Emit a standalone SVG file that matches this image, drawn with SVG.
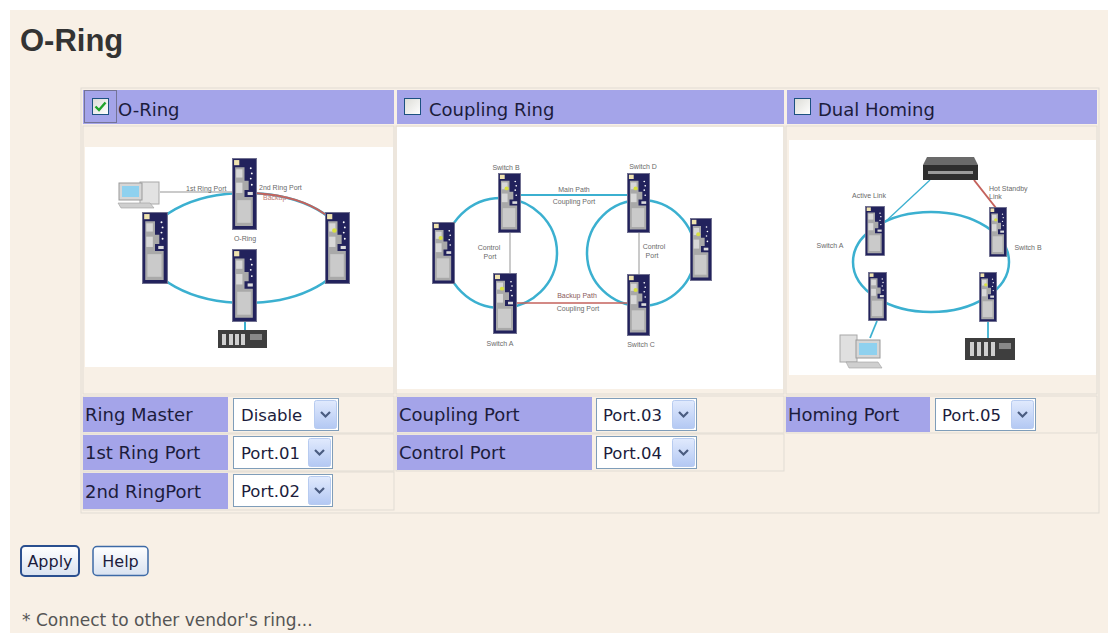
<svg xmlns="http://www.w3.org/2000/svg" xmlns:xlink="http://www.w3.org/1999/xlink" width="1108" height="633" viewBox="0 0 1108 633">
<style>
.ui{font-family:"DejaVu Sans","Verdana",sans-serif;fill:#1c1c3c}
.hd{font-size:18px}
.lb{font-size:18px}
.sel{font-size:16.5px}
.cell{fill:none;stroke:#e1dcd4;stroke-width:1}
.lab{fill:#a4a4e9}
.sm{font-family:"Liberation Sans",Arial,sans-serif;font-size:7px;fill:#6a6a6a}
.ring{fill:none;stroke:#3bb0d0;stroke-width:2.5}
.red{fill:none;stroke:#c4625c;stroke-width:2}
.gl{fill:none;stroke:#b8b8b8;stroke-width:1.5}
.box{fill:#fff;stroke:#7f9db9;stroke-width:1}
.btn{fill:url(#bg);stroke:#b7cbf0;stroke-width:1}
.chev{fill:none;stroke:#4a5c80;stroke-width:2.2}
</style>
<defs>
<linearGradient id="bg" x1="0" y1="0" x2="0" y2="1"><stop offset="0" stop-color="#e1eafd"/><stop offset="1" stop-color="#b3c8f3"/></linearGradient>
<linearGradient id="bb" x1="0" y1="0" x2="0" y2="1"><stop offset="0" stop-color="#ffffff"/><stop offset="1" stop-color="#d9e2f0"/></linearGradient>
<linearGradient id="cb" x1="0" y1="0" x2="1" y2="1"><stop offset="0" stop-color="#dcdcd6"/><stop offset="1" stop-color="#ffffff"/></linearGradient>
<symbol id="sw" viewBox="0 0 24 70" preserveAspectRatio="none">
<rect x="0.5" y="0.5" width="23" height="69" fill="#22225c" stroke="#707090"/>
<rect x="2" y="2" width="5" height="5" fill="#efe3b0"/>
<path d="M3 9H12V22H16V31H12V38H20V66H3Z" fill="#a9a9a9"/>
<rect x="4" y="11" width="6" height="8" fill="#d8d8d8"/>
<rect x="4" y="24" width="6" height="10" fill="#d8d8d8"/>
<rect x="5" y="41" width="13" height="22" fill="#cacaca"/>
<rect x="15" y="33" width="5" height="3" fill="#dcdcdc"/>
<circle cx="18" cy="10" r="0.9" fill="#fff"/>
<circle cx="19" cy="15" r="0.9" fill="#fff"/>
<circle cx="18" cy="20" r="0.9" fill="#fff"/>
<circle cx="19" cy="26" r="0.9" fill="#fff"/>
</symbol>
<symbol id="sw2" viewBox="0 0 24 70" preserveAspectRatio="none">
<use xlink:href="#sw" width="24" height="70"/>
<circle cx="9" cy="18" r="2.2" fill="#d8e040"/>
</symbol>
</defs>

<rect width="1108" height="633" fill="#ffffff"/>
<rect x="10" y="10" width="1098" height="623" fill="#f8f0e6"/>

<text x="20" y="51" font-family="Liberation Sans,Arial,sans-serif" font-weight="bold" font-size="31" fill="#333">O-Ring</text>

<g id="table">
<rect class="cell" x="81" y="88" width="1018" height="425"/>
<rect class="lab" x="83" y="90" width="311" height="34"/>
<rect class="lab" x="397" y="90" width="387" height="34"/>
<rect class="lab" x="787" y="90" width="310" height="34"/>
<rect class="cell" x="83" y="126" width="311" height="268"/>
<rect class="cell" x="396" y="126" width="388" height="268"/>
<rect class="cell" x="786" y="126" width="311" height="268"/>
<rect x="85" y="147" width="308" height="220" fill="#fff"/>
<rect x="397" y="127" width="386" height="262" fill="#fff"/>
<rect x="789" y="140" width="307" height="235" fill="#fff"/>
</g>

<g id="node-oring-header">
<rect x="84.5" y="90.5" width="32" height="32" fill="none" stroke="#444" stroke-width="1" stroke-dasharray="1,1"/>
<rect x="92.5" y="98.5" width="16" height="16" fill="url(#cb)" stroke="#1c5180"/>
<path d="M95.5 106.5L99 110L105.5 102.5" fill="none" stroke="#21a32b" stroke-width="2.4"/>
<text class="ui hd" x="118" y="116">O-Ring</text>
</g>
<g id="node-coupling-header">
<rect x="404.5" y="98.5" width="16" height="16" fill="url(#cb)" stroke="#1c5180"/>
<text class="ui hd" x="429" y="116">Coupling Ring</text>
</g>
<g id="node-dual-header">
<rect x="794.5" y="98.5" width="16" height="16" fill="url(#cb)" stroke="#1c5180"/>
<text class="ui hd" x="818" y="116">Dual Homing</text>
</g>

<!-- O-Ring diagram -->
<g id="oring-diagram">
<ellipse class="ring" cx="246" cy="248" rx="100" ry="55"/>
<path class="red" d="M257 193.3A100 55 0 0 1 325 214.3"/>
<line class="gl" x1="160" y1="192" x2="232" y2="192"/>
<line x1="245" y1="322" x2="245" y2="331" stroke="#3bb0d0" stroke-width="2"/>
<g id="pc1">
<rect x="140" y="182" width="19" height="22" fill="#e2e2e2" stroke="#a8a8a8"/>
<rect x="119" y="183" width="23" height="17" fill="#d6d6d6" stroke="#9a9a9a"/>
<rect x="122" y="186" width="17" height="11" fill="#8fd1ef"/>
<path d="M118 203H150L154 208H121Z" fill="#cfcfcf" stroke="#a0a0a0" stroke-width="0.6"/>
</g>
<g id="rack1">
<rect x="218" y="330" width="49" height="18" fill="#3e3e3e"/>
<rect x="222" y="334" width="4" height="11" fill="#cfcfcf"/>
<rect x="229" y="334" width="4" height="11" fill="#cfcfcf"/>
<rect x="235" y="334" width="4" height="11" fill="#cfcfcf"/>
<rect x="241" y="334" width="4" height="11" fill="#cfcfcf"/>
<rect x="250" y="334" width="12" height="6" fill="#888"/>
</g>
<use xlink:href="#sw" x="232" y="158" width="25" height="72"/>
<use xlink:href="#sw" x="142" y="212" width="26" height="72"/>
<use xlink:href="#sw2" x="325" y="212" width="25" height="72"/>
<use xlink:href="#sw" x="232" y="249" width="25" height="73"/>
<text class="sm" x="186" y="191" font-size="6">1st Ring Port</text>
<text class="sm" x="259" y="190" font-size="6">2nd Ring Port</text>
<text class="sm" x="263" y="200" font-size="6" style="fill:#c07a74">Backup</text>
<text class="sm" x="245" y="241" font-size="6" text-anchor="middle">O-Ring</text>
</g>

<!-- Coupling diagram -->
<g id="coupling-diagram">
<ellipse class="ring" cx="501" cy="253" rx="56" ry="55"/>
<ellipse class="ring" cx="641" cy="253" rx="54" ry="53"/>
<line x1="521" y1="195" x2="627" y2="195" stroke="#3bb0d0" stroke-width="2"/>
<line x1="517" y1="303" x2="627" y2="303" stroke="#c4625c" stroke-width="1.6"/>
<line class="gl" x1="510" y1="233" x2="510" y2="273"/>
<line class="gl" x1="639" y1="233" x2="639" y2="274"/>
<use xlink:href="#sw2" x="498" y="173" width="23" height="60"/>
<use xlink:href="#sw2" x="627" y="173" width="23" height="60"/>
<use xlink:href="#sw2" x="432" y="222" width="23" height="62"/>
<use xlink:href="#sw2" x="493" y="273" width="24" height="61"/>
<use xlink:href="#sw2" x="627" y="274" width="23" height="62"/>
<use xlink:href="#sw2" x="690" y="218" width="22" height="63"/>
<text class="sm" x="506" y="170" text-anchor="middle">Switch B</text>
<text class="sm" x="643" y="169" text-anchor="middle">Switch D</text>
<text class="sm" x="500" y="346" text-anchor="middle">Switch A</text>
<text class="sm" x="641" y="347" text-anchor="middle">Switch C</text>
<text class="sm" x="574" y="192" text-anchor="middle">Main Path</text>
<text class="sm" x="574" y="204" text-anchor="middle">Coupling Port</text>
<text class="sm" x="577" y="298" text-anchor="middle" style="fill:#8a5a5a">Backup Path</text>
<text class="sm" x="578" y="311" text-anchor="middle">Coupling Port</text>
<text class="sm" x="489" y="250" text-anchor="middle">Control</text>
<text class="sm" x="490" y="259" text-anchor="middle">Port</text>
<text class="sm" x="654" y="249" text-anchor="middle">Control</text>
<text class="sm" x="652" y="258" text-anchor="middle">Port</text>
</g>

<!-- Dual homing diagram -->
<g id="dual-diagram">
<ellipse class="ring" cx="931" cy="262" rx="78" ry="50"/>
<line x1="930" y1="180" x2="885" y2="222" stroke="#3bb0d0" stroke-width="1.3"/>
<line x1="974" y1="180" x2="996" y2="208" stroke="#c4625c" stroke-width="2"/>
<line x1="877" y1="321" x2="870" y2="338" stroke="#3bb0d0" stroke-width="1.8"/>
<line x1="988" y1="322" x2="988" y2="338" stroke="#3bb0d0" stroke-width="1.8"/>
<g id="hub">
<path d="M927 157H974L978 165H923Z" fill="#6a6a6a"/>
<rect x="923" y="165" width="55" height="15" fill="#2e2e2e"/>
<rect x="928" y="171" width="45" height="3" fill="#9a9a9a"/>
</g>
<g id="pc2">
<rect x="840" y="335" width="17" height="27" fill="#e0e0e0" stroke="#a8a8a8"/>
<rect x="856" y="340" width="24" height="18" fill="#d6d6d6" stroke="#9a9a9a"/>
<rect x="859" y="343" width="18" height="12" fill="#8fd1ef"/>
<path d="M846 362H878L882 368H849Z" fill="#cfcfcf" stroke="#a0a0a0" stroke-width="0.6"/>
</g>
<g id="rack2">
<rect x="965" y="338" width="50" height="22" fill="#3e3e3e"/>
<rect x="970" y="342" width="4" height="14" fill="#cfcfcf"/>
<rect x="977" y="342" width="4" height="14" fill="#cfcfcf"/>
<rect x="984" y="342" width="4" height="14" fill="#cfcfcf"/>
<rect x="991" y="342" width="4" height="14" fill="#cfcfcf"/>
<rect x="999" y="343" width="12" height="6" fill="#888"/>
</g>
<use xlink:href="#sw" x="865" y="206" width="20" height="50"/>
<use xlink:href="#sw2" x="989" y="207" width="18" height="50"/>
<use xlink:href="#sw" x="868" y="272" width="19" height="49"/>
<use xlink:href="#sw2" x="979" y="272" width="18" height="50"/>
<text class="sm" x="869" y="198" text-anchor="middle" font-size="6">Active Link</text>
<text class="sm" x="989" y="191" font-size="6">Hot Standby</text>
<text class="sm" x="989" y="199" font-size="6">Link</text>
<text class="sm" x="830" y="248" text-anchor="middle" font-size="6">Switch A</text>
<text class="sm" x="1028" y="250" text-anchor="middle" font-size="6">Switch B</text>
</g>

<!-- form rows -->
<g id="form-col1">
<rect class="cell" x="83" y="396" width="311" height="37"/>
<rect class="cell" x="83" y="434" width="311" height="37"/>
<rect class="cell" x="83" y="472" width="311" height="38"/>
<rect class="lab" x="83" y="397" width="145" height="35"/>
<rect class="lab" x="83" y="435" width="145" height="35"/>
<rect class="lab" x="83" y="473" width="145" height="36"/>
<text class="ui lb" x="85" y="421">Ring Master</text>
<text class="ui lb" x="85" y="459">1st Ring Port</text>
<text class="ui lb" x="85" y="498">2nd RingPort</text>
</g>
<g id="select-ringmaster">
<rect class="box" x="233.5" y="398.5" width="105" height="32"/>
<text class="ui sel" x="241" y="421">Disable</text>
<rect class="btn" x="314.5" y="400.5" width="22" height="28" rx="2"/>
<path class="chev" d="M321 412L325.5 416.5L330 412"/>
</g>
<g id="select-port1">
<rect class="box" x="233.5" y="436.5" width="99" height="32"/>
<text class="ui sel" x="241" y="459">Port.01</text>
<rect class="btn" x="308.5" y="438.5" width="22" height="28" rx="2"/>
<path class="chev" d="M315 450L319.5 454.5L324 450"/>
</g>
<g id="select-port2">
<rect class="box" x="233.5" y="474.5" width="99" height="32"/>
<text class="ui sel" x="241" y="497">Port.02</text>
<rect class="btn" x="308.5" y="476.5" width="22" height="28" rx="2"/>
<path class="chev" d="M315 488L319.5 492.5L324 488"/>
</g>

<g id="form-col2">
<rect class="cell" x="396" y="396" width="388" height="37"/>
<rect class="cell" x="396" y="434" width="388" height="37"/>
<rect class="lab" x="397" y="397" width="195" height="35"/>
<rect class="lab" x="397" y="435" width="195" height="35"/>
<text class="ui lb" x="399" y="421">Coupling Port</text>
<text class="ui lb" x="399" y="459">Control Port</text>
</g>
<g id="select-port3">
<rect class="box" x="596.5" y="398.5" width="100" height="32"/>
<text class="ui sel" x="603" y="421">Port.03</text>
<rect class="btn" x="672.5" y="400.5" width="22" height="28" rx="2"/>
<path class="chev" d="M679 412L683.5 416.5L688 412"/>
</g>
<g id="select-port4">
<rect class="box" x="596.5" y="436.5" width="100" height="32"/>
<text class="ui sel" x="603" y="459">Port.04</text>
<rect class="btn" x="672.5" y="438.5" width="22" height="28" rx="2"/>
<path class="chev" d="M679 450L683.5 454.5L688 450"/>
</g>

<g id="form-col3">
<rect class="cell" x="786" y="396" width="311" height="37"/>
<rect class="lab" x="786" y="397" width="144" height="35"/>
<text class="ui lb" x="788" y="421">Homing Port</text>
</g>
<g id="select-port5">
<rect class="box" x="935.5" y="398.5" width="100" height="32"/>
<text class="ui sel" x="942" y="421">Port.05</text>
<rect class="btn" x="1011.5" y="400.5" width="22" height="28" rx="2"/>
<path class="chev" d="M1018 412L1022.5 416.5L1027 412"/>
</g>

<g id="btn-apply">
<rect x="21" y="546" width="58" height="30" rx="4" fill="url(#bb)" stroke="#2a4f8f" stroke-width="2"/>
<text class="ui" x="50" y="567" font-size="16" text-anchor="middle">Apply</text>
</g>
<g id="btn-help">
<rect x="93" y="546.5" width="55" height="29" rx="4" fill="url(#bb)" stroke="#3d6aa6" stroke-width="1.5"/>
<text class="ui" x="120.5" y="567" font-size="16" text-anchor="middle">Help</text>
</g>

<text x="22" y="626" font-family="DejaVu Sans,Verdana,sans-serif" font-size="17" fill="#555">* Connect to other vendor's ring...</text>
</svg>
